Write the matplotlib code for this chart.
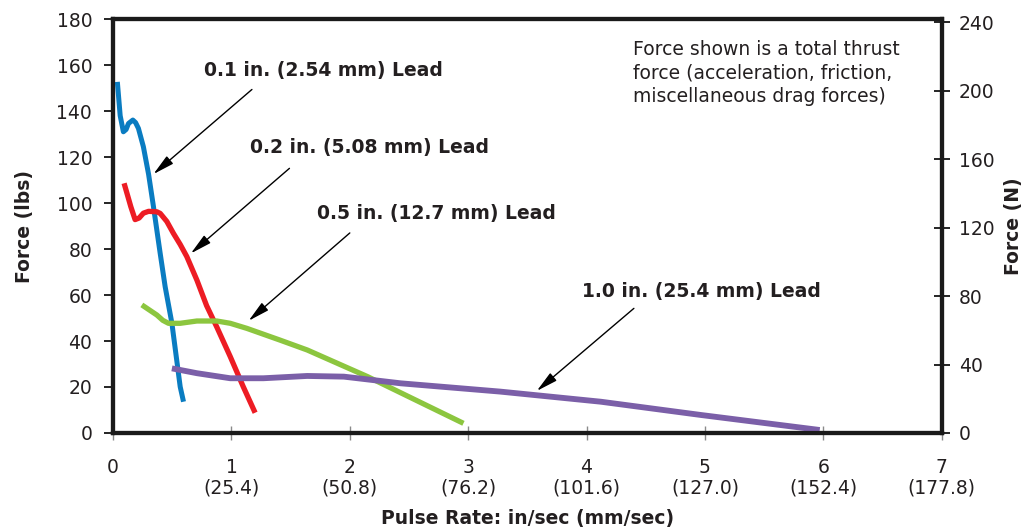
import matplotlib.pyplot as plt

plt.rcParams['font.family'] = ['DejaVu Sans']

# pulse rate (in/sec) vs force (lbs)
lead_01_x = [0.036, 0.06, 0.087, 0.11, 0.13, 0.167, 0.19, 0.214, 0.256, 0.30, 0.341,
             0.398, 0.44, 0.497, 0.567, 0.595]
lead_01_y = [152.7, 138.0, 131.0, 132.0, 134.6, 136.1, 135.0, 132.5, 124.5, 112.5, 98.5,
             78.1, 63.6, 47.7, 20.1, 13.6]

lead_02_x = [0.093, 0.15, 0.186, 0.22, 0.256, 0.30, 0.37, 0.398, 0.454, 0.51, 0.567,
             0.623, 0.708, 0.79, 0.877, 0.99, 1.10, 1.20]
lead_02_y = [108.6, 98.4, 92.8, 93.5, 95.6, 96.4, 96.2, 95.5, 92.0, 86.8, 82.0,
             76.7, 66.5, 55.4, 46.0, 33.2, 20.1, 8.8]

lead_05_x = [0.243, 0.37, 0.42, 0.468, 0.567, 0.708, 0.877, 0.99, 1.13, 1.41, 1.64,
             2.15, 2.96]
lead_05_y = [55.7, 51.3, 49.0, 47.7, 47.7, 48.7, 48.7, 47.7, 45.5, 40.4, 36.1,
             24.5, 4.2]

lead_10_x = [0.497, 0.708, 0.99, 1.27, 1.64, 1.95, 2.43, 3.27, 4.12, 4.97, 5.97]
lead_10_y = [28.1, 26.0, 23.8, 23.8, 24.8, 24.5, 21.6, 18.0, 13.6, 7.8, 1.3]

series = [
    (lead_01_x, lead_01_y, '#0a7cc1', 3.6),
    (lead_02_x, lead_02_y, '#ed1c24', 3.8),
    (lead_05_x, lead_05_y, '#8cc63f', 3.8),
    (lead_10_x, lead_10_y, '#7b5fa8', 4.2),
]

# callouts: label, text centre, arrow start, arrow tip
callouts = [
    ('0.1 in. (2.54 mm) Lead', (1.78, 157.8), (1.173, 149.4), (0.341, 112.6)),
    ('0.2 in. (5.08 mm) Lead', (2.17, 124.3), (1.49, 115.1), (0.657, 78.1)),
    ('0.5 in. (12.7 mm) Lead', (2.73, 95.6), (2.00, 87.0), (1.145, 48.8)),
    ('1.0 in. (25.4 mm) Lead', (4.97, 61.7), (4.40, 54.2), (3.58, 18.3)),
]

x_ticks = [0, 1, 2, 3, 4, 5, 6, 7]
x_labels = ['0', '1\n(25.4)', '2\n(50.8)', '3\n(76.2)', '4\n(101.6)',
            '5\n(127.0)', '6\n(152.4)', '7\n(177.8)']
lbs_ticks = list(range(0, 181, 20))
n_ticks = list(range(0, 241, 40))

txt = '#231f20'
fs = 13.5

fig = plt.figure(figsize=(10.28, 5.31), dpi=100)
ax = fig.add_axes([0.110, 0.1846, 0.806, 0.7794])

for xs, ys, c, lw in series:
    ax.plot(xs, ys, color=c, linewidth=lw, solid_capstyle='butt',
            solid_joinstyle='round', zorder=3)

for label, tpos, start, tip in callouts:
    ax.annotate('', xy=tip, xytext=start,
                arrowprops=dict(arrowstyle='-|>,head_length=1.3,head_width=0.3',
                                color='black', lw=1.0, shrinkA=0, shrinkB=0),
                zorder=4)
    ax.text(tpos[0], tpos[1], label, fontsize=fs, fontweight='bold',
            color=txt, ha='center', va='center')

ax.text(4.39, 170.8, 'Force shown is a total thrust\nforce (acceleration, friction,\n'
        'miscellaneous drag forces)', fontsize=fs, color=txt,
        ha='left', va='top', linespacing=1.3)

ax.set_xlim(0, 7)
ax.set_ylim(0, 180)
ax.set_xticks(x_ticks)
ax.set_xticklabels(x_labels, fontsize=fs, color=txt, linespacing=1.1)
ax.set_yticks(lbs_ticks)
ax.tick_params(axis='y', labelsize=fs, labelcolor=txt, direction='out',
               length=6.5, width=1.2, pad=8.5)
ax.tick_params(axis='x', colors='#8a8a8a', labelcolor=txt, direction='inout',
               length=10, width=1.0, pad=13)

for s in ax.spines.values():
    s.set_linewidth(3.0)
    s.set_color('#1a1a1a')

ax.set_ylabel('Force (lbs)', fontsize=fs, fontweight='bold', color=txt, labelpad=16)
ax.set_xlabel('Pulse Rate: in/sec (mm/sec)', fontsize=fs, fontweight='bold',
              color=txt, labelpad=8)

ax2 = ax.twinx()
ax2.set_ylim(0, 241.8)
ax2.set_yticks(n_ticks)
ax2.tick_params(axis='y', labelsize=fs, labelcolor=txt, direction='inout',
                length=11, width=1.2, pad=7)
for s in ax2.spines.values():
    s.set_linewidth(3.0)
    s.set_color('#1a1a1a')
ax2.set_ylabel('Force (N)', fontsize=fs, fontweight='bold', color=txt, labelpad=7)

fig.savefig('out.png', dpi=100)
